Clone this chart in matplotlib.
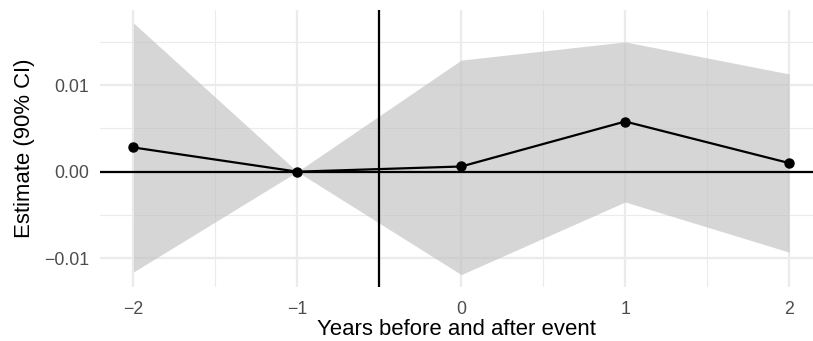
import matplotlib
matplotlib.use('Agg')
import matplotlib.pyplot as plt
from matplotlib.ticker import MultipleLocator

plt.rcParams['font.family'] = ['Liberation Sans', 'DejaVu Sans']

years = [-2, -1, 0, 1, 2]
estimate = [0.0028, 0.0, 0.0006, 0.0058, 0.0010]
ci_low = [-0.0116, 0.0, -0.0119, -0.0035, -0.0093]
ci_high = [0.0172, 0.0, 0.0129, 0.0150, 0.0113]
y_ticks = [-0.01, 0.0, 0.01]
y_tick_labels = ['\u22120.01', '0.00', '0.01']
x_tick_labels = ['\u22122', '\u22121', '0', '1', '2']

fig = plt.figure(figsize=(8.13, 3.41), dpi=100)
ax = fig.add_axes([100 / 813, 54 / 341, 713 / 813, 277 / 341])

# grid like theme_minimal
ax.set_xticks(years)
ax.set_xticklabels(x_tick_labels)
ax.set_yticks(y_ticks)
ax.set_yticklabels(y_tick_labels)
ax.xaxis.set_minor_locator(MultipleLocator(0.5))
ax.yaxis.set_minor_locator(MultipleLocator(0.005))
ax.grid(which='major', color='#ebebeb', linewidth=1.6)
ax.grid(which='minor', color='#ebebeb', linewidth=0.8)
ax.set_axisbelow(True)
for s in ax.spines.values():
    s.set_visible(False)
ax.tick_params(which='both', length=0)
ax.tick_params(axis='both', labelsize=12.8, colors='#4d4d4d')
ax.tick_params(axis='x', pad=10)
ax.tick_params(axis='y', pad=8)

ax.fill_between(years, ci_low, ci_high, color='#bebebe', alpha=0.62, linewidth=0, zorder=2)
ax.axhline(0, color='black', linewidth=1.6, zorder=3)
ax.axvline(-0.5, color='black', linewidth=1.6, zorder=3)
ax.plot(years, estimate, color='black', linewidth=1.6, marker='o', markersize=6.5, zorder=4)

ax.set_xlim(-2.204, 2.146)
ax.set_ylim(-0.01333, 0.01869)
ax.set_xlabel('Years before and after event', fontsize=15.9, labelpad=1)
ax.set_ylabel('Estimate (90% CI)', fontsize=15.9, labelpad=6)

fig.savefig('out.png', dpi=100)
